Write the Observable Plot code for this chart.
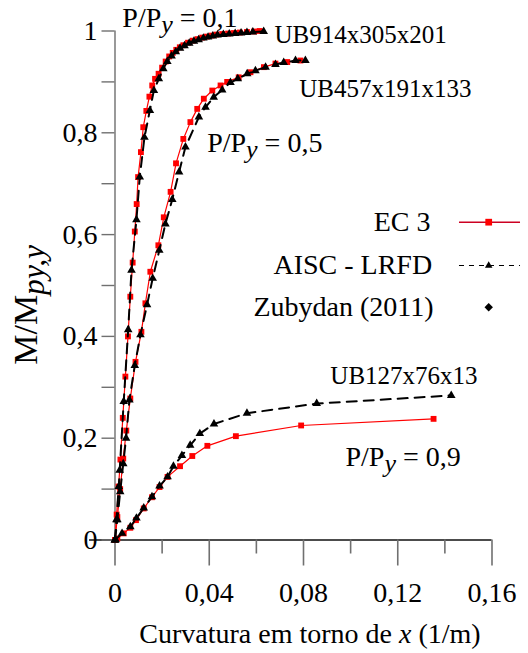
<!DOCTYPE html>
<html>
<head>
<meta charset="utf-8">
<script src="https://cdn.jsdelivr.net/npm/d3@7"></script>
<script src="https://cdn.jsdelivr.net/npm/@observablehq/plot@0.6"></script>
<style>
  html, body { margin: 0; padding: 0; background: #fff; }
  #chart svg { display: block; }
  #chart svg text { font-family: "Liberation Serif", "Times New Roman", serif; }
</style>
</head>
<body>
<div id="chart"></div>
<script>
// ---------------- DATA ----------------
// Curvature (1/m) , M/Mpy,y
const ec3_p01 = [[0,0],[0.0007,0.05],[0.0015,0.105],[0.0023,0.158],[0.0033,0.24],[0.0044,0.321],[0.0055,0.40],[0.0065,0.478],[0.0075,0.545],[0.0084,0.606],[0.0092,0.66],[0.0098,0.713],[0.0110,0.762],[0.0120,0.811],[0.0133,0.843],[0.0146,0.871],[0.0158,0.893],[0.0170,0.906],[0.0185,0.916],[0.0200,0.928],[0.0215,0.940],[0.0230,0.950],[0.0245,0.957],[0.0260,0.963],[0.0275,0.968],[0.0290,0.972],[0.0310,0.977],[0.0330,0.981],[0.0350,0.984],[0.0370,0.987],[0.0390,0.989],[0.0410,0.991],[0.0430,0.993],[0.0455,0.994],[0.0480,0.995],[0.0505,0.996],[0.0530,0.997],[0.0560,0.998],[0.0590,0.999],[0.0614,1.000]];
const aisc_p01 = [[0,0],[0.0006,0.04],[0.0016,0.105],[0.0020,0.137],[0.0037,0.272],[0.0056,0.413],[0.0070,0.530],[0.0091,0.629],[0.0105,0.713],[0.0125,0.791],[0.0148,0.844],[0.0165,0.883],[0.0186,0.906],[0.0205,0.926],[0.0222,0.940],[0.0240,0.951],[0.0258,0.959],[0.0276,0.966],[0.0295,0.971],[0.0315,0.976],[0.0335,0.980],[0.0355,0.983],[0.0375,0.986],[0.0395,0.988],[0.0415,0.990],[0.0435,0.992],[0.0460,0.993],[0.0485,0.994],[0.0510,0.995],[0.0535,0.996],[0.0560,0.997],[0.0585,0.998],[0.0631,0.999]];
const ec3_p05 = [[0,0],[0.0010,0.045],[0.0022,0.10],[0.0035,0.16],[0.0048,0.215],[0.0065,0.278],[0.0087,0.35],[0.0112,0.409],[0.0129,0.465],[0.0150,0.527],[0.0184,0.579],[0.0207,0.634],[0.0236,0.684],[0.0259,0.740],[0.0290,0.788],[0.0320,0.821],[0.0349,0.847],[0.0377,0.867],[0.0413,0.883],[0.0448,0.893],[0.0476,0.900],[0.0525,0.909],[0.0575,0.919],[0.0632,0.929],[0.0681,0.936],[0.0731,0.939],[0.0787,0.942]];
const aisc_p05 = [[0,0],[0.0010,0.04],[0.0022,0.095],[0.0035,0.15],[0.0047,0.20],[0.0061,0.275],[0.0084,0.343],[0.0108,0.403],[0.0136,0.462],[0.0160,0.514],[0.0188,0.569],[0.0214,0.621],[0.0243,0.669],[0.0272,0.723],[0.0299,0.772],[0.0356,0.831],[0.0384,0.850],[0.0419,0.870],[0.0455,0.884],[0.0490,0.899],[0.0521,0.906],[0.0561,0.916],[0.0596,0.922],[0.0639,0.929],[0.0681,0.934],[0.0716,0.938],[0.0766,0.942],[0.0808,0.942]];
const ec3_p09 = [[0,0],[0.0010,0.003],[0.0037,0.013],[0.0065,0.024],[0.0089,0.039],[0.0122,0.062],[0.0157,0.084],[0.0189,0.104],[0.0223,0.124],[0.0276,0.145],[0.0328,0.165],[0.0392,0.185],[0.0513,0.204],[0.0790,0.225],[0.1352,0.238]];
const aisc_p09 = [[0,0],[0.0002,0.001],[0.0030,0.013],[0.0065,0.026],[0.0091,0.043],[0.0122,0.063],[0.0157,0.085],[0.0189,0.106],[0.0223,0.124],[0.0248,0.145],[0.0284,0.166],[0.0319,0.186],[0.0360,0.209],[0.0420,0.228],[0.0560,0.249],[0.0856,0.268],[0.1427,0.284]];

const xMajorTicks = [0, 0.04, 0.08, 0.12, 0.16];
const xMajorLabels = ["0", "0,04", "0,08", "0,12", "0,16"];
const xMinorTicks = [0.02, 0.06, 0.10, 0.14];
const yTicks = [0, 0.1, 0.2, 0.3, 0.4, 0.5, 0.6, 0.7, 0.8, 0.9, 1];
const yTickLabels = ["0", "", "0,2", "", "0,4", "", "0,6", "", "0,8", "", "1"];

const legendLabels = ["EC 3", "AISC - LRFD", "Zubydan (2011)"];
const annotationTexts = ["P/P_{y} = 0,1", "UB914x305x201", "UB457x191x133", "P/P_{y} = 0,5", "UB127x76x13", "P/P_{y} = 0,9"];
const xTitle = "Curvatura em torno de *{x} (1/m)";
const yTitle = "M/M_{py,y}";

// ---------------- LAYOUT ----------------
const FONT = "Liberation Serif";
const RED = "#ff0000";
const annotationPos = [
  {x: 0.0031, y: 1.0075, size: 28},
  {x: 0.0677, y: 0.976, size: 25},
  {x: 0.0782, y: 0.871, size: 25},
  {x: 0.0391, y: 0.762, size: 28},
  {x: 0.0914, y: 0.307, size: 25},
  {x: 0.0978, y: 0.146, size: 28}
];
const legendPos = [{x: 0.1339, y: 0.6244}, {x: 0.1346, y: 0.5393}, {x: 0.1352, y: 0.4574}];
const legendLine = {x1: 0.1462, x2: 0.1721, xm: 0.1586};
const yTitlePos = {x: -0.0330, y: 0.462};

const rows = (arr, curve) => arr.map(([x, y]) => ({x, y, curve}));
const ec3Rows = [...rows(ec3_p01, "p01"), ...rows(ec3_p05, "p05"), ...rows(ec3_p09, "p09")];
const aiscRows = [...rows(aisc_p01, "p01"), ...rows(aisc_p05, "p05"), ...rows(aisc_p09, "p09")];
const xLabelMap = new Map(xMajorTicks.map((d, i) => [d, xMajorLabels[i]]));
const yLabelMap = new Map(yTicks.map((d, i) => [d, yTickLabels[i]]));
const annotations = annotationTexts.map((t, i) => ({t, ...annotationPos[i]}));
const legend = legendLabels.map((t, i) => ({t, ...legendPos[i]}));

const chart = Plot.plot({
  width: 528,
  height: 653,
  marginLeft: 114.5,
  marginRight: 36.5,
  marginTop: 30.5,
  marginBottom: 113.5,
  x: {domain: [0, 0.16], axis: null},
  y: {domain: [0, 1], axis: null},
  style: {fontFamily: FONT, fontSize: "28px", background: "#fff", color: "#000", overflow: "visible"},
  marks: [
    // axes
    Plot.ruleX([0], {y1: 0, y2: 1, stroke: "#808080", strokeWidth: 1.6}),
    Plot.ruleY([0], {x1: -0.0108, x2: 0.16, stroke: "#111", strokeWidth: 1.4}),
    Plot.axisX({ticks: xMajorTicks, anchor: "bottom", label: null, tickSize: 26, tickPadding: 16, tickFormat: d => xLabelMap.get(d), stroke: "#707070", strokeWidth: 1.6, fill: "#000", fontSize: 28, fontFamily: FONT}),
    Plot.axisX({ticks: xMinorTicks, anchor: "bottom", label: null, tickSize: 14, tickFormat: () => "", stroke: "#707070", strokeWidth: 1.6}),
    Plot.axisY({ticks: yTicks, anchor: "left", label: null, tickSize: 13, tickPadding: 4.5, tickFormat: d => yLabelMap.get(d), stroke: "#707070", strokeWidth: 1.4, fill: "#000", fontSize: 28, fontFamily: FONT}),
    // axis titles
    Plot.text([xTitle], {frameAnchor: "bottom", dx: 6.5, dy: 102.5, lineAnchor: "bottom", textAnchor: "middle", fontSize: 28, fontFamily: FONT, fill: "#000"}),
    Plot.text([yTitle], {x: () => yTitlePos.x, y: () => yTitlePos.y, rotate: -90, lineAnchor: "bottom", textAnchor: "middle", fontSize: 34, fontFamily: FONT, fill: "#000"}),
    // EC 3
    Plot.line(ec3Rows, {x: "x", y: "y", z: "curve", stroke: RED, strokeWidth: 1.2}),
    Plot.dot(ec3Rows, {x: "x", y: "y", symbol: "square", r: 3.3, fill: RED, stroke: "none"}),
    // AISC - LRFD
    Plot.line(aiscRows, {x: "x", y: "y", z: "curve", stroke: "#000", strokeWidth: 2, strokeDasharray: "10,7"}),
    Plot.dot(aiscRows, {x: "x", y: "y", symbol: "triangle", r: 3.2, fill: "#000", stroke: "none"}),
    // annotations
    Plot.text(annotations, {x: "x", y: "y", text: "t", fontSize: d => d.size, fontFamily: FONT, textAnchor: "start", lineAnchor: "bottom", fill: "#000"}),
    // legend
    Plot.text(legend, {x: "x", y: "y", text: "t", textAnchor: "end", lineAnchor: "middle", fontSize: 28, fontFamily: FONT, fill: "#000"}),
    Plot.ruleY([legend[0].y], {x1: legendLine.x1, x2: legendLine.x2, stroke: "#cc0022", strokeWidth: 1.5}),
    Plot.ruleY([legend[1].y], {x1: legendLine.x1, x2: legendLine.x2, stroke: "#000", strokeWidth: 1.2, strokeDasharray: "5,5"}),
    Plot.dot([legend[0]], {x: () => legendLine.xm, y: "y", symbol: "square", r: 3.8, fill: RED}),
    Plot.dot([legend[1]], {x: () => legendLine.xm, y: "y", symbol: "triangle", r: 2.8, fill: "#000"}),
    Plot.dot([legend[2]], {x: () => legendLine.xm, y: "y", symbol: "diamond2", r: 3.8, fill: "#000"})
  ]
});

document.getElementById("chart").appendChild(chart);

// rich text: _{...} = italic subscript, *{...} = italic
const SVGNS = "http://www.w3.org/2000/svg";
for (const t of chart.querySelectorAll("text")) {
  t.setAttribute("font-family", FONT);
  t.style.fontFamily = "'Liberation Serif', serif";
  const s = t.textContent;
  if (!/[_*]\{/.test(s)) continue;
  const fs = parseFloat(getComputedStyle(t).fontSize) || 28;
  const subSize = (fs * 0.93).toFixed(1);
  const subShift = +(fs * 0.21).toFixed(1);
  t.textContent = "";
  const re = /_\{([^}]*)\}|\*\{([^}]*)\}|([^_*]+|[_*])/g;
  let m, shift = 0;
  while ((m = re.exec(s))) {
    const ts = document.createElementNS(SVGNS, "tspan");
    if (m[1] != null) {
      ts.textContent = m[1];
      ts.setAttribute("font-style", "italic");
      ts.setAttribute("font-size", subSize);
      ts.setAttribute("dy", String(subShift));
      shift = subShift;
    } else {
      ts.textContent = m[2] != null ? m[2] : m[3];
      if (m[2] != null) ts.setAttribute("font-style", "italic");
      if (shift) { ts.setAttribute("dy", String(-shift)); shift = 0; }
    }
    t.appendChild(ts);
  }
}
</script>
</body>
</html>
